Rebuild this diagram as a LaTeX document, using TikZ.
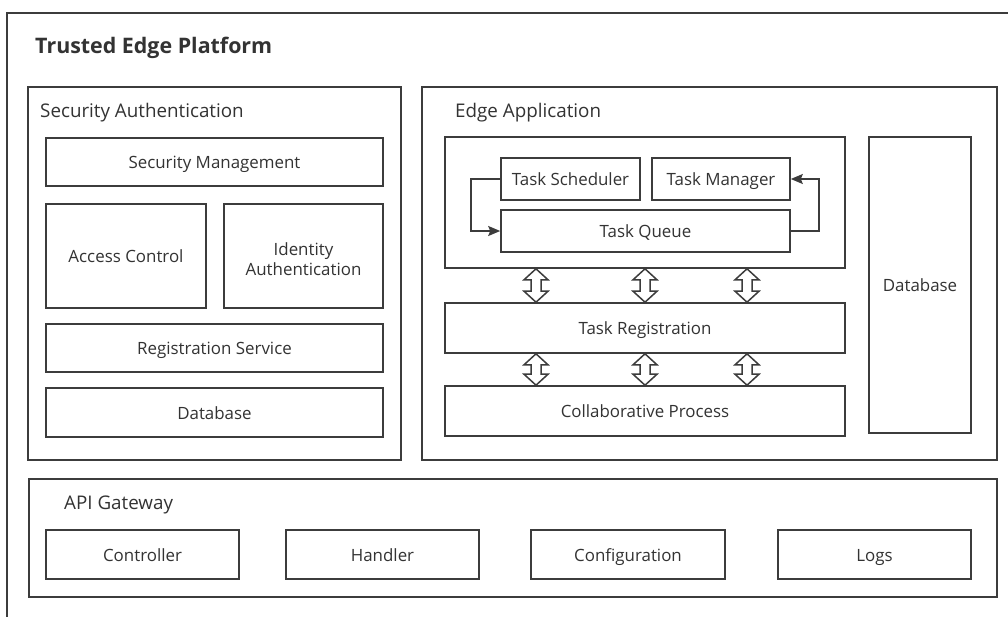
\documentclass[tikz,border=0pt]{standalone}
\usepackage{fontspec}
\setmainfont{Open Sans}
\usetikzlibrary{arrows.meta,calc}
\definecolor{edgegray}{HTML}{3C3C3C}
\definecolor{textgray}{HTML}{333333}
\tikzset{
  box/.style={draw=edgegray, line width=1.6pt, rectangle, inner sep=0pt,
              text=textgray, font=\fontsize{16.9}{20}\selectfont, align=center},
  paneltitle/.style={anchor=base west, inner sep=0pt, text=textgray,
              font=\fontsize{18.8}{22}\selectfont},
  flow/.style={draw=edgegray, line width=1.6pt,
              -{Stealth[length=12pt,width=10pt,inset=2pt]}},
  hollowarrow/.style={draw=edgegray, line width=1.5pt, fill=white, line join=miter}
}
% hollow up/down arrow between the bottom of #2 and the top of #3 at the x of coordinate #1
\newcommand{\udarrow}[3]{%
  \path (#2.south -| #1) coordinate (ua-t) (#3.north -| #1) coordinate (ua-b);
  \draw[hollowarrow] (ua-t) -- ($(ua-t)+(12,11)$) -- ($(ua-t)+(5,11)$)
    -- ($(ua-b)+(5,-11)$) -- ($(ua-b)+(12,-11)$) -- (ua-b)
    -- ($(ua-b)+(-12,-11)$) -- ($(ua-b)+(-5,-11)$)
    -- ($(ua-t)+(-5,11)$) -- ($(ua-t)+(-12,11)$) -- cycle;
}
% centred box label with a fixed strut so all labels share one baseline
\newcommand{\lbl}[1]{\rule[-0.3em]{0pt}{1.4em}#1}
\begin{document}
\begin{tikzpicture}[x=1pt,y=-1pt]
  \useasboundingbox (0,0) rectangle (1008,616);
  \clip (0,0) rectangle (1008,616);
  \fill[white] (0,0) rectangle (1008,616);

  % outer platform frame
  \draw[edgegray, line width=1.6pt] (7,13) rectangle (1030,640);
  \node[paneltitle, font=\fontsize{21.4}{25}\selectfont\bfseries] (title) at (35,53) {Trusted Edge Platform};

  % Security Authentication panel
  \node[box, minimum width=373pt, minimum height=373pt] (sa) at (214.5,273.5) {};
  \node[paneltitle] (satitle) at (40,117) {Security Authentication};
  \node[box, minimum width=337pt, minimum height=48pt] (secmgmt) at (214.5,162) {\lbl{Security Management}};
  \node[box, minimum width=160pt, minimum height=104pt] (access) at (126,256) {\lbl{Access Control}};
  \node[box, minimum width=159pt, minimum height=104pt] (ident) at (303.5,256) {\rule{0pt}{1.1em}Identity\\Authentication};
  \node[box, minimum width=337pt, minimum height=48pt] (regsvc) at (214.5,348) {\lbl{Registration Service}};
  \node[box, minimum width=337pt, minimum height=49pt] (sadb) at (214.5,412.5) {\lbl{Database}};

  % Edge Application panel
  \node[box, minimum width=575pt, minimum height=373pt] (ea) at (709.5,273.5) {};
  \node[paneltitle] (eatitle) at (455,117) {Edge Application};
  \node[box, minimum width=400pt, minimum height=131pt] (group) at (645,202.5) {};
  \node[box, minimum width=139pt, minimum height=42pt] (ts) at (570.5,179) {\lbl{Task Scheduler}};
  \node[box, minimum width=138pt, minimum height=42pt] (tm) at (721,179) {\lbl{Task Manager}};
  \node[box, minimum width=289pt, minimum height=42pt] (tq) at (645.5,231) {\lbl{Task Queue}};
  \node[box, minimum width=400pt, minimum height=50pt] (treg) at (645,328) {\lbl{Task Registration}};
  \node[box, minimum width=400pt, minimum height=50pt] (collab) at (645,411) {\lbl{Collaborative Process}};
  \node[box, minimum width=102pt, minimum height=296pt] (eadb) at (920,285) {\lbl{Database}};

  \draw[flow] (ts.west) -- ++(-29,0) |- (tq.west);
  \draw[flow] (tq.east) -- ++(28,0) |- (tm.east);

  \coordinate (col1) at (536,0);
  \coordinate (col2) at (645,0);
  \coordinate (col3) at (747,0);
  \udarrow{col1}{group}{treg}
  \udarrow{col2}{group}{treg}
  \udarrow{col3}{group}{treg}
  \udarrow{col1}{treg}{collab}
  \udarrow{col2}{treg}{collab}
  \udarrow{col3}{treg}{collab}

  % API Gateway panel
  \node[box, minimum width=968pt, minimum height=118pt] (api) at (513,538) {};
  \node[paneltitle] (apititle) at (64,509) {API Gateway};
  \node[box, minimum width=193pt, minimum height=49pt] (ctrl) at (142.5,554.5) {\lbl{Controller}};
  \node[box, minimum width=193pt, minimum height=49pt] (handler) at (382.5,554.5) {\lbl{Handler}};
  \node[box, minimum width=194pt, minimum height=49pt] (config) at (628,554.5) {\lbl{Configuration}};
  \node[box, minimum width=193pt, minimum height=49pt] (logs) at (874.5,554.5) {\lbl{Logs}};
\end{tikzpicture}
\end{document}
